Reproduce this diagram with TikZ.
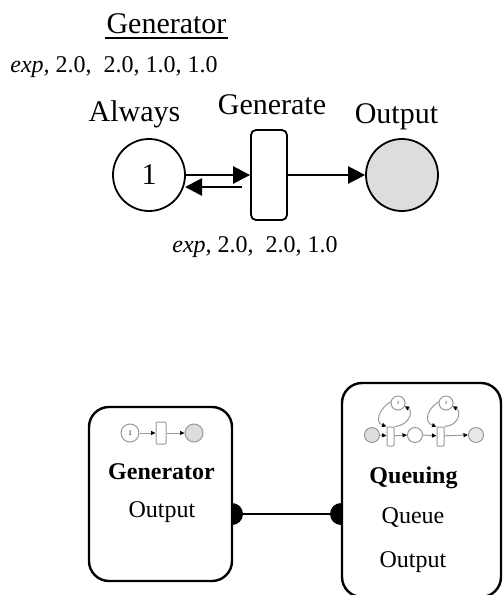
\documentclass[tikz,border=0pt]{standalone}
\usepackage{fontspec}
\setmainfont{Liberation Serif}
\usetikzlibrary{arrows.meta}
\definecolor{tokgray}{HTML}{DDDDDD}
\definecolor{lightgray2}{HTML}{E8E8E8}
\definecolor{netgray}{HTML}{999999}
\newcommand{\fs}[1]{\fontsize{#1}{#1}\selectfont}
\tikzset{
  txt/.style={inner sep=0pt,outer sep=0pt,anchor=base,text=black},
  bigplace/.style={circle,draw=black,line width=1.8pt,minimum size=72pt,inner sep=0pt},
  bigtrans/.style={rectangle,rounded corners=5pt,draw=black,line width=1.8pt,minimum width=36pt,minimum height=90pt,inner sep=0pt},
  bigarrow/.style={line width=2.6pt,-{Triangle[length=17pt,width=17pt]}},
  module/.style={rectangle,rounded corners=20pt,draw=black,line width=2.4pt,fill=white,inner sep=0pt},
  smallplace/.style={circle,draw=netgray,line width=1pt,inner sep=0pt,fill=white},
  smalltrans/.style={rectangle,rounded corners=1pt,draw=netgray,line width=1pt,inner sep=0pt,fill=white},
  smallarrow/.style={draw=netgray,line width=1pt,-{Triangle[length=4.5pt,width=4pt,color=black]}},
  port/.style={fill=black,draw=none}
}
\begin{document}
\begin{tikzpicture}[x=1pt,y=-1pt]
\useasboundingbox (0,0) rectangle (503,595);
% top labels
\node[txt] (title) at (166.5,33) {\fs{30}Generator};
\coordinate (ulstart) at (105,38);
\coordinate (ulend) at (228,38);
\draw[line width=1.6pt] (ulstart) -- (ulend);
\node[txt] (parm1) at (114,72) {\fs{24}\textit{exp,} 2.0,\ \ 2.0, 1.0, 1.0};
\node[txt] (parm2) at (255,252) {\fs{24}\textit{exp,} 2.0,\ \ 2.0, 1.0};
\node[txt] (lalways) at (134.5,121) {\fs{30}Always};
\node[txt] (lgenerate) at (272,114) {\fs{30}Generate};
\node[txt] (loutput) at (396.5,123) {\fs{30}Output};
% big net
\node[bigplace] (always) at (149,175) {\fs{30}1};
\node[bigtrans] (gen) at (269,175) {};
\node[bigplace,fill=tokgray] (output) at (402,175) {};
\coordinate (backstart) at (242,187);
\coordinate (backend) at (185,187);
\draw[bigarrow] (always.east) -- (gen.west);
\draw[bigarrow] (backstart) -- (backend);
\draw[bigarrow] (gen.east) -- (output.west);
% modules
\node[module,minimum width=143pt,minimum height=174pt] (modg) at (160.5,494) {};
\node[module,minimum width=159pt,minimum height=214pt] (modq) at (421.5,490) {};
% ports
\fill[port] (232,503) arc[start angle=90,end angle=-90,radius=11pt] -- cycle;
\fill[port] (341,503) arc[start angle=90,end angle=270,radius=11pt] -- cycle;
\coordinate (portg) at (232,514);
\coordinate (portq) at (341,514);
\draw[line width=1.3pt] (portg) -- (portq);
% generator mini net
\node[smallplace,minimum size=18pt] (gp1) at (130,433) {\fs{7}1};
\node[smalltrans,minimum width=10pt,minimum height=22pt] (gt1) at (161,433) {};
\node[smallplace,minimum size=18pt,fill=tokgray] (gp2) at (194,433) {};
\draw[smallarrow] (gp1.east) -- (gt1.west);
\draw[smallarrow] (gt1.east) -- (gp2.west);
\node[txt] (mg1) at (161.5,479) {\fs{24}\textbf{Generator}};
\node[txt] (mg2) at (162,517) {\fs{24}Output};
% queuing mini net
\node[smallplace,minimum size=15pt,fill=tokgray] (q1) at (372,435) {};
\node[smalltrans,minimum width=7pt,minimum height=19pt] (qt1) at (390.5,436.5) {};
\node[smallplace,minimum size=15pt] (q2) at (415,435) {};
\node[smalltrans,minimum width=7pt,minimum height=19pt] (qt2) at (440.5,436.5) {};
\node[smallplace,minimum size=15pt,fill=lightgray2] (q3) at (476,435) {};
\node[smallplace,minimum size=14pt] (r1) at (398,403) {\fs{5}1};
\node[smallplace,minimum size=14pt] (r2) at (446,403) {\fs{5}1};
\draw[smallarrow] (q1.east) -- (qt1.170);
\draw[smallarrow] (qt1.10) -- (q2.west);
\draw[smallarrow] (q2.east) -- (qt2.170);
\draw[smallarrow] (qt2.10) -- (q3.west);
\draw[smallarrow] (r1.170) .. controls (380,408) and (374,422) .. (qt1.north west);
\draw[smallarrow] (qt1.north east) .. controls (408,426) and (414,412) .. (r1.-25);
\draw[smallarrow] (r2.170) .. controls (428,408) and (423,422) .. (qt2.north west);
\draw[smallarrow] (qt2.north east) .. controls (458,426) and (462,412) .. (r2.-25);
\node[txt] (mq1) at (413.5,483) {\fs{24}\textbf{Queuing}};
\node[txt] (mq2) at (413,523) {\fs{24}Queue};
\node[txt] (mq3) at (413,567) {\fs{24}Output};
\end{tikzpicture}
\end{document}
